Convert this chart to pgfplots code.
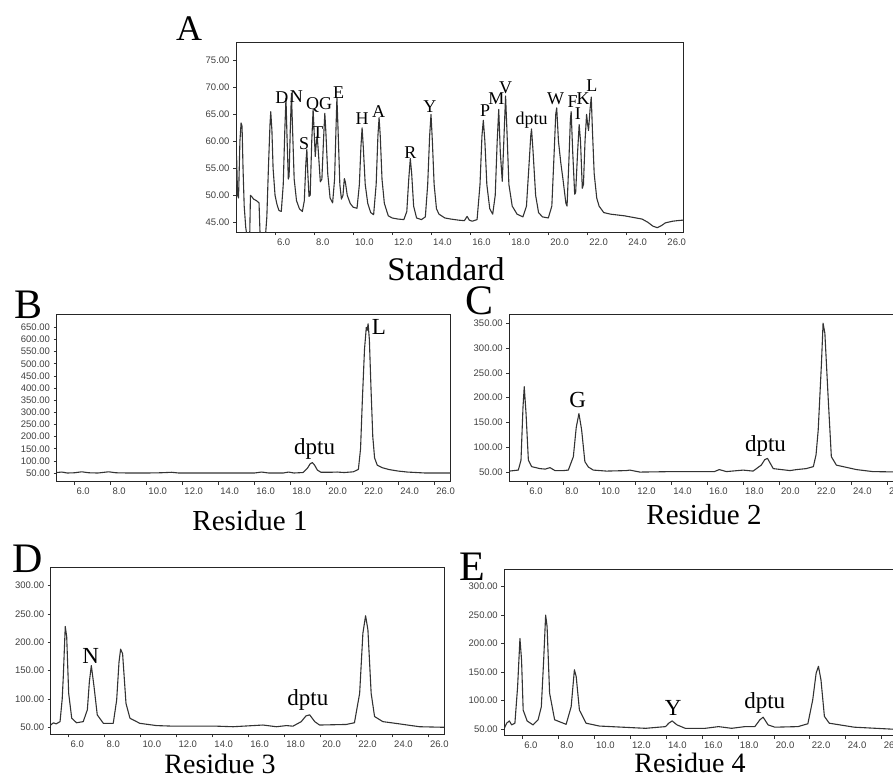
\documentclass[border=0pt]{standalone}
\usepackage{pgfplots}
\pgfplotsset{compat=1.18}
\usepackage{fontspec}
\setmainfont{Liberation Serif}
\newfontfamily\tickfont{Liberation Sans}

\pgfplotstableread{
x y
4.00 52
4.03 57.3
4.08 50
4.13 49.5
4.20 60
4.26 63.4
4.31 62.8
4.36 55
4.42 48
4.50 44
4.58 42
4.70 42
4.74 50.0
4.80 49.8
4.90 49.3
5.05 49.0
5.18 48.6
5.24 42
5.50 42
5.58 46
5.66 55
5.74 63
5.78 65.5
5.84 62
5.90 55
6.00 50
6.10 48.3
6.20 47.2
6.32 47.0
6.42 52
6.50 62
6.56 68.0
6.62 60
6.68 53
6.72 53.5
6.78 62
6.84 68.9
6.90 62
6.98 53
7.10 49
7.25 47.5
7.40 47.0
7.50 49
7.58 56
7.63 58.5
7.68 54
7.74 49.8
7.80 50
7.88 60
7.95 65.9
8.00 62
8.06 57.2
8.12 60
8.16 61.0
8.22 58
8.32 52.5
8.40 53
8.48 60
8.55 65.2
8.60 62
8.70 54
8.82 49.5
8.95 48.6
9.05 53
9.12 62
9.17 68.1
9.23 62
9.32 52
9.40 49.3
9.48 50
9.55 53.1
9.60 52.5
9.70 50
9.85 48.5
10.00 47.8
10.20 47.6
10.32 52
10.40 59
10.46 62.5
10.52 59
10.62 52
10.75 48.5
10.90 46.8
11.05 46.4
11.18 52
11.27 61
11.33 64.4
11.39 61
11.48 53
11.60 48.5
11.80 46.2
12.00 45.8
12.30 45.6
12.60 45.5
12.75 47
12.85 53
12.93 56.8
13.00 54
13.10 48
13.25 45.8
13.50 45.5
13.70 46
13.82 52
13.92 61
13.99 65.0
14.06 60
14.15 52
14.27 47.5
14.40 46.5
14.70 45.8
15.00 45.6
15.40 45.4
15.70 45.3
15.84 46.1
15.95 45.4
16.10 45.2
16.35 45.5
16.50 52
16.60 61
16.67 63.9
16.75 60
16.85 52
17.00 47.5
17.15 46.5
17.28 50
17.38 60
17.46 65.9
17.54 58
17.64 52.6
17.72 60
17.81 68.4
17.88 62
17.98 52
18.15 48
18.40 46.5
18.70 46
18.88 48
19.00 55
19.10 61
19.14 62.3
19.22 58
19.35 50
19.50 46.8
19.70 46
20.00 45.8
20.18 48
20.30 58
20.38 65
20.43 66.2
20.52 60
20.64 56.0
20.75 53
20.90 48.5
20.96 48.0
21.05 56
21.13 64
21.17 65.5
21.25 58
21.35 50.2
21.40 50.5
21.50 58
21.58 63.1
21.65 60
21.74 51.3
21.80 52
21.88 60
21.96 65.0
22.02 63
22.06 62
22.14 66
22.20 68.2
22.26 62
22.35 54
22.48 49.5
22.60 48
22.84 46.8
23.20 46.5
23.90 46.2
24.50 45.8
24.80 45.6
25.10 45.0
25.35 44.3
25.58 44.0
25.80 44.4
26.00 44.9
26.37 45.2
26.60 45.3
26.90 45.4
}\standard

\pgfplotstableread{
x y
5.0 52
5.3 54
5.6 50
6.0 51
6.4 55
6.8 51
7.3 50
7.9 55
8.3 51
9.0 50
10.0 50
10.8 51
11.4 53
11.8 50
13.0 50
14.5 50
16.0 50
16.4 54
16.8 50
17.6 50
17.9 54
18.2 50
18.7 52
18.95 70
19.1 88
19.22 93
19.35 82
19.5 62
19.7 53
20.2 53
20.6 54
21.0 52
21.5 55
21.78 65
21.9 150
22.0 350
22.12 560
22.22 650
22.27 638
22.32 665
22.39 600
22.48 400
22.58 200
22.68 112
22.83 82
23.1 72
23.5 64
24.0 58
24.5 54
25.0 52
25.5 50
26.0 50
26.9 50
}\resone

\pgfplotstableread{
x y
5.0 52
5.5 54
5.65 74
5.76 180
5.83 222
5.93 168
6.06 74
6.24 61
6.7 57
7.0 56
7.26 59
7.54 53
8.0 53
8.28 54
8.56 81
8.72 140
8.87 168
9.02 135
9.2 71
9.4 60
9.67 54
10.4 52
11.5 53
11.7 54
12.26 50
14.1 51
16.0 51
16.4 51
16.67 55
17.07 51
18.0 54
18.55 52
19.0 64
19.2 75
19.35 77.6
19.5 68
19.67 57
20.6 53
20.96 55
21.5 57
21.9 61
22.05 85
22.17 135
22.35 269
22.44 350
22.54 330
22.72 202
22.9 81
23.18 64
24.3 55
25.2 51
26.9 50
}\restwo

\pgfplotstableread{
x y
5.0 54
5.15 58
5.3 56
5.52 60
5.64 100
5.70 139
5.81 228
5.89 210
6.0 110
6.17 66
6.44 58
6.81 60
7.04 81
7.15 130
7.26 159
7.41 122
7.59 72
7.93 57
8.48 57
8.67 98
8.8 165
8.89 188
9.0 180
9.19 92
9.41 66
9.96 57
10.89 53
11.81 52
12.56 52
14.22 52
15.15 51
16.81 54
17.56 51
18.11 53
18.48 52
18.94 60
19.2 70
19.41 72
19.69 60
19.96 54
21.44 55
21.9 58
22.19 110
22.37 216
22.52 247
22.65 222
22.83 110
23.02 69
23.48 60
24.41 56
25.52 51
26.9 50
}\resthree

\pgfplotstableread{
x y
5.0 51
5.13 60
5.28 64
5.41 57
5.59 60
5.74 124
5.87 209
5.96 171
6.05 83
6.27 64
6.6 57
6.88 66
7.06 89
7.19 171
7.30 250
7.38 230
7.52 113
7.8 66
8.44 58
8.72 89
8.90 154
9.0 142
9.18 83
9.55 60
10.29 55
11.57 53
12.86 51
13.97 54
14.15 60
14.34 64
14.61 57
15.07 51
16.18 51
16.92 54
17.65 51
18.39 54
18.94 54
19.22 66
19.4 70.5
19.68 57
20.05 53
21.34 54
21.89 59
22.16 101
22.35 148
22.48 160
22.62 136
22.81 72
23.08 60
24.47 53
26.9 49
}\resfour

\pgfplotsset{
  chrom/.style={
    scale only axis,
    anchor=south west,
    axis line style={black!85, line width=1pt},
    tick align=outside,
    tick pos=left,
    major tick length=3pt,
    tick style={black!80, line width=0.7pt},
    xtick={6,8,...,26},
    /pgf/number format/assume math mode=true,
    ticklabel style={font=\tickfont\fontsize{9.5}{10}\selectfont, text=black!75},
    x tick label style={anchor=north west, xshift=-1.5pt,
      /pgf/number format/fixed, /pgf/number format/fixed zerofill,
      /pgf/number format/precision=1},
    y tick label style={/pgf/number format/fixed,
      /pgf/number format/fixed zerofill, /pgf/number format/precision=2},
    xmin=5.0, xmax=26.9,
  },
}
\tikzset{
  pk/.style={font=\fontsize{23}{23}\selectfont},
  trace/.style={black!80, line width=1.1pt, line join=round, mark=none},
}

\begin{document}
\begin{tikzpicture}
\useasboundingbox (0pt,0pt) rectangle (893pt,-774pt);
\clip (0pt,0pt) rectangle (893pt,-774pt);

% A: standard
\begin{axis}[chrom, at={(236pt,-232pt)}, width=447pt, height=190pt,
  xmin=4.0, xmax=26.9, ymin=43.2, ymax=78.4, ytick={45,50,...,75}]
\addplot[trace] table {\standard};
\begin{scope}[font=\fontsize{18}{18}\selectfont]
\node at (axis cs:6.35,68.1) {D};
\node at (axis cs:7.09,68.2) {N};
\node at (axis cs:7.93,66.8) {Q};
\node at (axis cs:8.59,67.0) {G};
\node at (axis cs:7.49,59.6) {S};
\node at (axis cs:8.20,61.7) {T};
\node at (axis cs:9.26,69.1) {E};
\node at (axis cs:10.46,64.2) {H};
\node at (axis cs:11.30,65.5) {A};
\node at (axis cs:12.93,58.0) {R};
\node at (axis cs:13.93,66.5) {Y};
\node at (axis cs:16.76,65.7) {P};
\node at (axis cs:17.34,67.9) {M};
\node at (axis cs:17.81,69.9) {V};
\node at (axis cs:19.14,64.0) {dptu};
\node at (axis cs:20.37,67.9) {W};
\node at (axis cs:21.25,67.4) {F};
\node at (axis cs:21.78,67.9) {K};
\node at (axis cs:21.52,65.1) {I};
\node at (axis cs:22.23,70.4) {L};
\end{scope}
\end{axis}

% B: residue 1
\begin{axis}[chrom, at={(56.5pt,-481.5pt)}, width=394pt, height=167.5pt,
  ymin=15, ymax=705, ytick={50,100,...,650}]
\addplot[trace] table {\resone};
\node[pk] at (axis cs:19.35,150) {dptu};
\node[pk] at (axis cs:22.92,653) {L};
\end{axis}

% C: residue 2
\begin{axis}[chrom, at={(509.3pt,-481.5pt)}, width=394pt, height=167.2pt,
  ymin=31, ymax=368, ytick={50,100,...,350}]
\addplot[trace] table {\restwo};
\node[pk] at (axis cs:8.80,195) {G};
\node[pk] at (axis cs:19.24,103) {dptu};
\end{axis}

% D: residue 3
\begin{axis}[chrom, at={(50.7pt,-734.3pt)}, width=393.6pt, height=166.6pt,
  ymin=37.6, ymax=331.8, ytick={50,100,...,300}]
\addplot[trace] table {\resthree};
\node[pk] at (axis cs:7.22,176) {N};
\node[pk] at (axis cs:19.31,98) {dptu};
\end{axis}

% E: residue 4
\begin{axis}[chrom, at={(504.3pt,-735.7pt)}, width=393.6pt, height=166.4pt,
  ymin=38, ymax=330.6, ytick={50,100,...,300}]
\addplot[trace] table {\resfour};
\node[pk] at (axis cs:14.39,86) {Y};
\node[pk] at (axis cs:19.49,96) {dptu};
\end{axis}

% panel letters and captions
\begin{scope}[every node/.style={anchor=base, inner sep=0pt}]
\node[font=\fontsize{36}{36}\selectfont] at (189pt,-40pt) {A};
\node[font=\fontsize{42}{42}\selectfont] at (29pt,-318pt) {B};
\node[font=\fontsize{42}{42}\selectfont] at (479pt,-314pt) {C};
\node[font=\fontsize{42}{42}\selectfont] at (28pt,-572pt) {D};
\node[font=\fontsize{42}{42}\selectfont] at (472pt,-580pt) {E};
\node[font=\fontsize{33}{33}\selectfont] at (446pt,-280pt) {Standard};
\node[font=\fontsize{29}{29}\selectfont] at (250pt,-530pt) {Residue 1};
\node[font=\fontsize{29}{29}\selectfont] at (704pt,-524pt) {Residue 2};
\node[font=\fontsize{28}{28}\selectfont] at (220pt,-773pt) {Residue 3};
\node[font=\fontsize{28}{28}\selectfont] at (690pt,-772pt) {Residue 4};
\end{scope}
\end{tikzpicture}
\end{document}
